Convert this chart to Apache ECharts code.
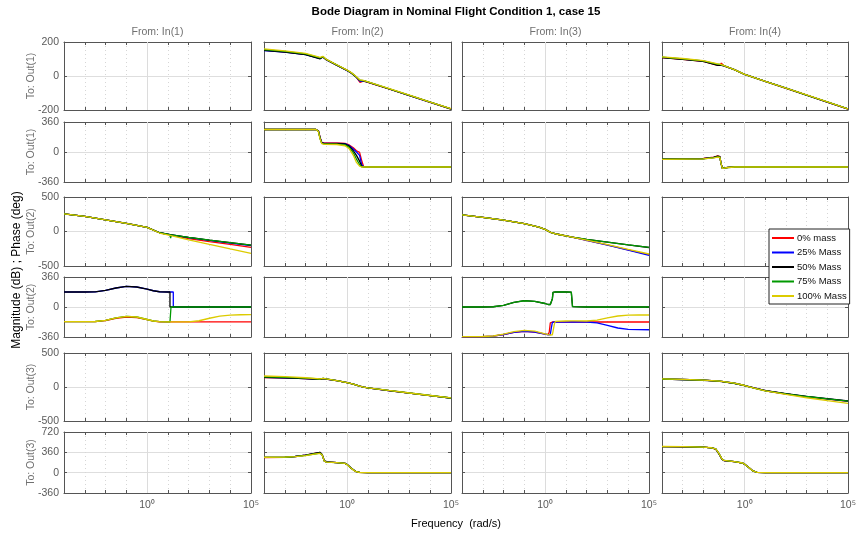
<!DOCTYPE html>
<html>
<head>
<meta charset="utf-8">
<title>Bode Diagram</title>
<script src="https://cdn.jsdelivr.net/npm/echarts@6/dist/echarts.min.js"></script>
<style>
  html, body { margin: 0; padding: 0; background: #fff; }
  #chart { width: 857px; height: 537px; }
</style>
</head>
<body>
<div id="chart"></div>
<script>
// series (same order in every panel)
var names = ['0% mass', '25% Mass', '50% Mass', '75% Mass', '100% Mass'];
var colors = ['#ff0000', '#0000ff', '#000000', '#009900', '#dccb00'];

var inputs = ['From: In(1)', 'From: In(2)', 'From: In(3)', 'From: In(4)'];
var outputs = ['To: Out(1)', 'To: Out(1)', 'To: Out(2)', 'To: Out(2)', 'To: Out(3)', 'To: Out(3)'];

// y range per row (magnitude dB / phase deg)
var yMin = [-200, -360, -500, -360, -500, -360];
var yMax = [200, 360, 500, 360, 500, 720];
var yStep = [200, 360, 500, 360, 500, 360];

// frequency axis is log10(rad/s), -4 .. 5
var wMin = -4, wMax = 5;

// ---- Out(1) magnitude, In(2)
var w_m1i2 = [-4, -3, -2, -1.3, -1.17, -1, -0.5, 0, 0.2, 0.45, 0.62, 0.78, 1, 2, 3, 4, 5];
var m1i2 = [
  [152, 142, 127, 103, 113, 96, 64, 33, 18, -8, -37, -30, -37, -76, -115, -155, -195],
  [150, 141, 126, 102, 112, 95, 63, 32, 17, -8, -32, -28, -36, -75, -115, -155, -194],
  [151, 141, 126, 101, 112, 96, 64, 33, 18, -7, -26, -27, -36, -75, -114, -154, -194],
  [155, 145, 130, 106, 114, 97, 65, 34, 19, -6, -25, -27, -35, -74, -114, -154, -193],
  [159, 148, 133, 110, 116, 98, 66, 35, 20, -5, -23, -26, -34, -73, -113, -153, -192]
];
// ---- Out(1) phase, In(2)
var w_p1i2 = [-4, -1.5, -1.38, -1.3, -1.22, -1.1, -0.5, -0.1, 0.1, 0.3, 0.45, 0.6, 0.7, 0.8, 1, 5];
var p1i2 = [
  [270, 270, 255, 175, 115, 108, 108, 104, 85, 50, 15, -5, -100, -178, -180, -180],
  [270, 270, 252, 170, 112, 104, 104, 100, 78, 35, 0, -40, -150, -180, -180, -180],
  [270, 270, 250, 165, 110, 100, 100, 96, 70, 15, -40, -110, -170, -180, -180, -180],
  [270, 270, 248, 160, 105, 96, 95, 85, 55, -10, -85, -150, -178, -180, -180, -180],
  [270, 270, 245, 155, 100, 92, 90, 75, 40, -40, -125, -170, -180, -180, -180, -180]
];
// ---- Out(1) magnitude, In(4)
var w_m1i4 = [-4, -3, -2, -1.3, -1.2, -1.13, -1, -0.5, 0, 1, 2, 3, 4, 5];
var m1i4 = [
  [108, 98, 86, 62, 63, 75, 60, 37, 9, -32, -73, -113, -154, -195],
  [109, 99, 87, 66, 66, 76, 60, 37, 9, -32, -72, -113, -153, -194],
  [108, 98, 86, 63, 64, 75, 60, 37, 9, -32, -72, -112, -153, -194],
  [111, 101, 89, 69, 68, 76, 61, 38, 10, -31, -71, -112, -152, -193],
  [113, 103, 91, 71, 70, 77, 61, 38, 10, -31, -71, -111, -152, -193]
];
// ---- Out(1) phase, In(4)
var w_p1i4 = [-4, -2, -1.5, -1.3, -1.2, -1.15, -1.08, -1, -0.8, -0.5, 5];
var p1i4 = [
  [-85, -78, -62, -48, -55, -130, -195, -200, -185, -180, -180],
  [-86, -80, -66, -55, -60, -130, -195, -200, -185, -180, -180],
  [-85, -79, -64, -50, -56, -130, -195, -200, -185, -180, -180],
  [-87, -82, -68, -60, -63, -130, -196, -202, -186, -180, -180],
  [-88, -83, -70, -62, -65, -130, -196, -202, -186, -180, -180]
];
// ---- Out(2) magnitude, In(1)
var w_m2i1 = [-4, -3, -2, -1, 0, 0.6, 1.1, 1.13, 1.16, 2, 3, 4, 5];
var m2i1 = [
  [255, 218, 170, 118, 60, -18, -48, -50, -52, -102, -146, -188, -230],
  [255, 218, 170, 118, 60, -18, -45, -82, -48, -90, -130, -168, -205],
  [255, 218, 170, 118, 60, -18, -45, -47, -48, -86, -126, -162, -198],
  [255, 218, 170, 118, 60, -18, -45, -95, -48, -85, -124, -160, -196],
  [255, 218, 170, 118, 60, -22, -55, -57, -60, -122, -188, -253, -317]
];
// ---- Out(2) phase, In(1)
var w_p2i1 = [-4, -3, -2.5, -2, -1.5, -1, -0.5, 0, 0.3, 0.6, 1, 1.1, 1.1, 1.15, 1.15, 1.26, 1.26, 2, 2.5, 3, 3.5, 4, 4.5, 5];
var p2i1 = [
  [-176, -176, -175, -162, -135, -120, -126, -152, -170, -177, -178, -178, -178, -178, -178, -178, -178, -178, -178, -178, -178, -178, -178, -178],
  [180, 180, 182, 200, 228, 248, 240, 215, 195, 183, 180, 180, 180, 180, 180, 180, 0, 0, 0, 0, 0, 0, 0, 0],
  [180, 180, 182, 200, 228, 248, 240, 215, 195, 183, 180, 180, 0, 0, 0, 0, 0, 0, 0, 0, 0, 0, 0, 0],
  [-176, -176, -174, -160, -130, -112, -120, -150, -168, -176, -178, -178, -178, -178, 0, 0, 0, 0, 0, 0, 0, 0, 0, 0],
  [-176, -176, -174, -160, -130, -112, -120, -150, -168, -176, -178, -178, -178, -178, -178, -178, -178, -178, -165, -135, -110, -97, -93, -92]
];
// ---- Out(2) magnitude, In(3)
var w_m2i3 = [-4, -3, -2, -1, -0.3, 0, 0.15, 0.3, 0.6, 1, 1.3, 1.34, 1.38, 2, 3, 4, 5];
var m2i3 = [
  [240, 205, 165, 115, 62, 30, 5, -18, -40, -62, -80, -82, -84, -128, -193, -265, -335],
  [240, 205, 165, 115, 62, 30, 5, -18, -40, -62, -80, -82, -84, -130, -197, -270, -345],
  [240, 205, 165, 115, 62, 30, 5, -18, -40, -62, -80, -95, -84, -115, -155, -195, -232],
  [240, 205, 165, 115, 62, 30, 5, -18, -40, -62, -80, -100, -84, -115, -155, -194, -230],
  [240, 205, 165, 115, 62, 30, 5, -18, -40, -62, -80, -82, -84, -125, -190, -260, -326]
];
// ---- Out(2) phase, In(3)
var w_p2i3 = [-4, -3, -2.5, -2, -1.5, -1, -0.5, 0, 0.15, 0.2, 0.25, 0.3, 0.35, 0.38, 0.45, 0.5, 1, 1.26, 1.32, 1.4, 2, 2.5, 3, 3.5, 4, 4.5, 5];
var p2i3 = [
  [-356, -355, -350, -330, -305, -292, -300, -325, -330, -300, -190, -182, -180, -180, -180, -180, -180, -180, -180, -180, -180, -180, -180, -180, -180, -180, -180],
  [-356, -355, -350, -330, -305, -292, -300, -325, -333, -335, -330, -250, -185, -181, -180, -180, -180, -180, -180, -180, -180, -190, -220, -252, -268, -272, -273],
  [0, 0, 3, 20, 55, 76, 68, 42, 30, 28, 30, 40, 100, 175, 182, 182, 180, 178, 5, 0, 0, 0, 0, 0, 0, 0, 0],
  [0, 0, 3, 20, 55, 75, 68, 42, 30, 28, 30, 40, 100, 175, 182, 182, 180, 178, 5, 0, 0, 0, 0, 0, 0, 0, 0],
  [-356, -354, -348, -325, -295, -280, -290, -322, -332, -335, -336, -336, -334, -330, -200, -172, -168, -167, -167, -166, -168, -158, -130, -108, -98, -96, -96]
];
// ---- Out(3) magnitude, In(2)
var w_m3i2 = [-4, -3, -2, -1.3, -1.15, -1, -0.5, 0, 0.3, 0.6, 0.8, 1, 2, 3, 4, 5];
var m3i2 = [
  [140, 133, 122, 112, 124, 117, 94, 64, 42, 12, -3, -14, -52, -89, -126, -163],
  [141, 134, 123, 113, 124, 117, 94, 64, 42, 12, -3, -14, -52, -89, -126, -163],
  [142, 135, 124, 114, 125, 117, 94, 64, 42, 12, -3, -14, -52, -89, -126, -162],
  [150, 142, 130, 118, 126, 118, 95, 65, 43, 13, -2, -13, -51, -88, -125, -162],
  [162, 152, 136, 120, 127, 118, 95, 65, 43, 13, -2, -13, -51, -88, -125, -161]
];
// ---- Out(3) phase, In(2)
var w_p3i2 = [-4, -3, -2.5, -2, -1.5, -1.3, -1.2, -1.1, -1, -0.5, -0.1, 0, 0.2, 0.4, 0.6, 1, 5];
var p3i2 = [
  [268, 270, 285, 310, 345, 358, 320, 210, 190, 178, 165, 145, 80, 25, 5, 0, 0],
  [270, 272, 286, 310, 343, 355, 318, 210, 190, 178, 165, 145, 80, 25, 5, 0, 0],
  [270, 272, 287, 312, 346, 358, 320, 210, 190, 178, 165, 145, 80, 25, 5, 0, 0],
  [272, 273, 285, 305, 335, 345, 315, 208, 188, 177, 164, 144, 78, 24, 4, 0, 0],
  [273, 274, 284, 302, 332, 340, 312, 206, 186, 176, 163, 142, 76, 22, 3, 0, 0]
];
// ---- Out(3) magnitude, In(4)
var w_m3i4 = [-4, -3, -2, -1.2, -0.5, 0, 0.5, 1, 2, 3, 4, 5];
var m3i4 = [
  [118, 110, 100, 85, 55, 22, -18, -55, -103, -145, -178, -210],
  [118, 110, 100, 85, 55, 22, -18, -55, -102, -143, -176, -208],
  [117, 109, 99, 84, 54, 21, -18, -54, -98, -138, -172, -205],
  [118, 110, 100, 85, 55, 22, -19, -56, -100, -140, -175, -208],
  [119, 111, 101, 86, 56, 22, -20, -58, -110, -158, -200, -240]
];
// ---- Out(3) phase, In(4)
var w_p3i4 = [-4, -3, -2, -1.6, -1.4, -1.25, -1.1, -1, -0.5, -0.1, 0, 0.2, 0.4, 0.6, 1, 5];
var p3i4 = [
  [461, 459, 451, 439, 418, 338, 240, 215, 195, 170, 150, 90, 30, 5, 0, 0],
  [462, 460, 452, 440, 420, 340, 240, 215, 195, 170, 150, 90, 30, 5, 0, 0],
  [461, 459, 451, 439, 419, 339, 239, 214, 195, 170, 150, 90, 30, 5, 0, 0],
  [462, 460, 452, 440, 421, 342, 242, 216, 196, 171, 151, 91, 31, 5, 0, 0],
  [463, 461, 453, 441, 422, 344, 244, 217, 196, 171, 151, 91, 31, 6, 0, 0]
];

var panels = [
  { row: 0, col: 1, w: w_m1i2, v: m1i2 },
  { row: 0, col: 3, w: w_m1i4, v: m1i4 },
  { row: 1, col: 1, w: w_p1i2, v: p1i2 },
  { row: 1, col: 3, w: w_p1i4, v: p1i4 },
  { row: 2, col: 0, w: w_m2i1, v: m2i1 },
  { row: 2, col: 2, w: w_m2i3, v: m2i3 },
  { row: 3, col: 0, w: w_p2i1, v: p2i1 },
  { row: 3, col: 2, w: w_p2i3, v: p2i3 },
  { row: 4, col: 1, w: w_m3i2, v: m3i2 },
  { row: 4, col: 3, w: w_m3i4, v: m3i4 },
  { row: 5, col: 1, w: w_p3i2, v: p3i2 },
  { row: 5, col: 3, w: w_p3i4, v: p3i4 }
];

// layout (px)
var colLeft = [64, 264, 462, 662];
var colWidth = [187, 187, 187, 186];
var rowTop = [42, 122, 197, 277, 353, 432];
var rowHeight = [68, 60, 69, 60, 68, 61];

var FONT = 'Liberation Sans, Arial, Helvetica, sans-serif';
var tickColor = '#5a5a5a';
var boxColor = '#555';

var grids = [], xAxes = [], yAxes = [], series = [];

for (var r = 0; r < 6; r++) {
  for (var c = 0; c < 4; c++) {
    var g = r * 4 + c;
    grids.push({
      left: colLeft[c], top: rowTop[r], width: colWidth[c], height: rowHeight[r],
      outerBoundsMode: 'none', show: true, backgroundColor: '#fff', borderWidth: 0
    });
    xAxes.push({
      gridIndex: g, type: 'value', position: 'bottom', min: wMin, max: wMax, interval: 1,
      axisLine: { show: true, onZero: false, lineStyle: { color: boxColor, width: 1 } },
      axisTick: { show: true, inside: true, length: 3, lineStyle: { color: boxColor } },
      axisLabel: {
        show: r === 5, color: tickColor, fontSize: 10.5, fontFamily: FONT, margin: 7,
        formatter: function (v) { return v === 0 ? '10\u2070' : (v === 5 ? '10\u2075' : ''); }
      },
      splitLine: { show: true, lineStyle: { color: '#d6d6d6', type: [1, 3], width: 1 } }
    });
    xAxes.push({
      gridIndex: g, type: 'value', position: 'top', min: wMin, max: wMax, interval: 1,
      axisLine: { show: true, onZero: false, lineStyle: { color: boxColor, width: 1 } },
      axisTick: { show: true, inside: true, length: 3, lineStyle: { color: boxColor } },
      axisLabel: { show: false }, splitLine: { show: false }
    });
    yAxes.push({
      gridIndex: g, type: 'value', position: 'left', min: yMin[r], max: yMax[r], interval: yStep[r],
      axisLine: { show: true, onZero: false, lineStyle: { color: boxColor, width: 1 } },
      axisTick: { show: true, inside: true, length: 3, lineStyle: { color: boxColor } },
      axisLabel: { show: c === 0, color: tickColor, fontSize: 10.5, fontFamily: FONT, margin: 5 },
      name: c === 0 ? outputs[r] : '', nameLocation: 'middle', nameGap: 27, nameMoveOverlap: false,
      nameTextStyle: { color: '#707070', fontSize: 10.5, fontFamily: FONT },
      splitLine: { show: true, lineStyle: { color: '#dedede', width: 1 } }
    });
    yAxes.push({
      gridIndex: g, type: 'value', position: 'right', min: yMin[r], max: yMax[r], interval: yStep[r],
      axisLine: { show: true, onZero: false, lineStyle: { color: boxColor, width: 1 } },
      axisTick: { show: true, inside: true, length: 3, lineStyle: { color: boxColor } },
      axisLabel: { show: false }, splitLine: { show: false }
    });
    // solid major grid line at 10^0
    series.push({
      type: 'line', xAxisIndex: 2 * g, yAxisIndex: 2 * g, data: [], silent: true, z: 1,
      markLine: {
        silent: true, z: 1, symbol: ['none', 'none'], label: { show: false }, animation: false,
        lineStyle: { color: '#dcdcdc', type: 'solid', width: 1 },
        data: [{ xAxis: 0 }]
      }
    });
  }
}

panels.forEach(function (p) {
  var g = p.row * 4 + p.col;
  p.v.forEach(function (vals, k) {
    series.push({
      name: names[k], type: 'line', xAxisIndex: 2 * g, yAxisIndex: 2 * g,
      data: p.w.map(function (w, i) { return [w, vals[i]]; }),
      symbol: 'none', smooth: false, z: 3 + k,
      lineStyle: { color: colors[k], width: 1.3 },
      itemStyle: { color: colors[k] }
    });
  });
});

var graphics = [
  { type: 'text', x: 456, y: 12, style: { text: 'Bode Diagram in Nominal Flight Condition 1, case 15', fill: '#000', font: 'bold 11.5px ' + FONT, textAlign: 'center', textVerticalAlign: 'middle' } },
  { type: 'text', x: 456, y: 524, style: { text: 'Frequency  (rad/s)', fill: '#000', font: '11px ' + FONT, textAlign: 'center', textVerticalAlign: 'middle' } },
  { type: 'text', x: 17, y: 270, rotation: Math.PI / 2, style: { text: 'Magnitude (dB) ; Phase (deg)', fill: '#000', font: '12px ' + FONT, textAlign: 'center', textVerticalAlign: 'middle' } }
];
inputs.forEach(function (t, c) {
  graphics.push({ type: 'text', x: colLeft[c] + colWidth[c] / 2, y: 32, style: { text: t, fill: '#707070', font: '10.5px ' + FONT, textAlign: 'center', textVerticalAlign: 'middle' } });
});

var chart = echarts.init(document.getElementById('chart'), null, { renderer: 'canvas' });
chart.setOption({
  animation: false,
  backgroundColor: '#fff',
  textStyle: { fontFamily: FONT },
  grid: grids,
  xAxis: xAxes,
  yAxis: yAxes,
  series: series,
  graphic: graphics,
  legend: {
    data: names.map(function (n, k) { return { name: n, icon: 'rect', itemStyle: { color: colors[k] } }; }),
    orient: 'vertical', left: 769, top: 229,
    backgroundColor: '#fff', borderColor: '#222', borderWidth: 1, borderRadius: 0,
    padding: [4, 3, 3, 3], itemGap: 4.5, itemWidth: 22, itemHeight: 2,
    textStyle: { fontSize: 9.5, color: '#111', fontFamily: FONT, padding: [0, 0, 0, -2] },
    selectedMode: false, z: 20
  }
});
</script>
</body>
</html>
